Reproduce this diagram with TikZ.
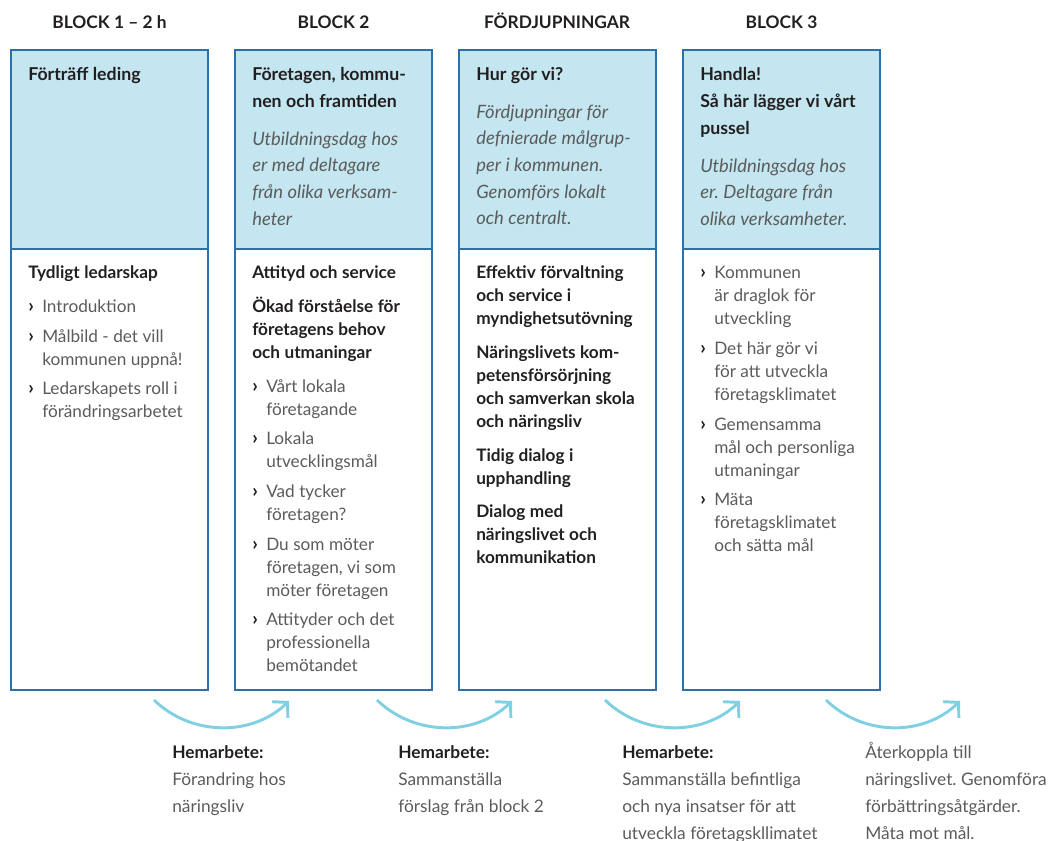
\documentclass[tikz,border=0pt]{standalone}
\usepackage{fontspec}
\setmainfont{Lato}
\usetikzlibrary{arrows.meta}
\frenchspacing
\definecolor{lysblaa}{HTML}{C4E6F0}
\definecolor{ramblaa}{HTML}{2D6FA8}
\definecolor{pilblaa}{HTML}{80D0E3}
\definecolor{morkgra}{HTML}{231F20}
\definecolor{textgra}{HTML}{5B5B5B}
\newcommand{\topp}{\fontsize{13.3}{20.25}\selectfont}
\newcommand{\nedre}{\fontsize{12.9}{17.25}\selectfont}
\newcommand{\kursiv}[1]{\par\addvspace{8pt}\leavevmode{\fontsize{13.8}{20}\selectfont\itshape\color{textgra}#1\par}}
\newcommand{\rub}[1]{\leavevmode{\bfseries\color{morkgra}#1}\par\addvspace{8pt}}
\newcommand{\pkt}[1]{\hangindent=10.5pt\hangafter=1\noindent\makebox[10.5pt][l]{\color{morkgra}\fontsize{14.5}{17.25}\selectfont\bfseries ›}{\def\\{\newline}#1}\par\addvspace{5pt}}

\begin{document}
\begin{tikzpicture}[x=0.75pt,y=-0.75pt,
  ram/.style={draw=ramblaa, line width=1.1pt},
  tekst/.style={anchor=base west, inner sep=0, align=left, text width=165pt, text=textgra},
  rubrikk/.style={anchor=base, inner sep=0, font=\fontsize{13}{16}\selectfont\bfseries, text=morkgra},
  pil/.style={draw=pilblaa, line width=2.2pt, -{Straight Barb[length=8pt, width=17pt, line width=2.2pt]}}]
\useasboundingbox (0,0) rectangle (1050,841);
\foreach \x in {11,235,459,683} {
 \draw[ram, fill=lysblaa] (\x,50) rectangle ++(197,199);
 \draw[ram] (\x,249) rectangle ++(197,441);
}
\node[rubrikk] (h1) at (109.5,29) {BLOCK 1 – 2 h};
\node[rubrikk] (h2) at (333.5,29) {BLOCK 2};
\node[rubrikk] (h3) at (557,29) {FÖRDJUPNINGAR};
\node[rubrikk] (h4) at (781.5,29) {BLOCK 3};

\node[tekst, text=morkgra] (t1) at (28,81) {\topp\textbf{Förträff leding}\par};
\node[tekst, text=morkgra] (t2) at (252,81) {\topp\textbf{Företagen, kommu-\\nen och framtiden}\kursiv{Utbildningsdag hos\\er med deltagare\\från olika verksam-\\heter}};
\node[tekst, text=morkgra] (t3) at (476,81) {\topp\textbf{Hur gör vi?}\kursiv{Fördjupningar för\\defnierade målgrup-\\per i kommunen.\\Genomförs lokalt\\och centralt.}};
\node[tekst, text=morkgra] (t4) at (700,81) {\topp\textbf{Handla!\\Så här lägger vi vårt\\pussel}\kursiv{Utbildningsdag hos\\er. Deltagare från\\olika verksamheter.}};

\node[tekst] (n1) at (28,279) {\nedre\rub{Tydligt ledarskap}\pkt{Introduktion}\pkt{Målbild - det vill\\kommunen uppnå!}\pkt{Ledarskapets roll i\\förändringsarbetet}};
\node[tekst] (n2) at (252,279) {\nedre\rub{Attityd och service}\rub{Ökad förståelse för\\företagens behov\\och utmaningar}\pkt{Vårt lokala\\företagande}\pkt{Lokala\\utvecklingsmål}\pkt{Vad tycker\\företagen?}\pkt{Du som möter\\företagen, vi som\\möter företagen}\pkt{Attityder och det\\professionella\\bemötandet}};
\node[tekst] (n3) at (476,279) {\nedre\rub{Effektiv förvaltning\\och service i\\myndighetsutövning}\rub{Näringslivets kom-\\petensförsörjning\\och samverkan skola\\och näringsliv}\rub{Tidig dialog i\\upphandling}\rub{Dialog med\\näringslivet och\\kommunikation}};
\node[tekst] (n4) at (700,279) {\nedre\pkt{Kommunen\\är draglok för\\utveckling}\pkt{Det här gör vi\\för att utveckla\\företagsklimatet}\pkt{Gemensamma\\mål och personliga\\utmaningar}\pkt{Mäta\\företagsklimatet\\och sätta mål}};

\foreach \a/\b [count=\i] in {154/289,377/512,605/740,826/960} {
 \coordinate (fra\i) at (\a,700);
 \coordinate (til\i) at (\b,701);
 \draw[pil] (fra\i) .. controls +(37,36) and +(-37,36) .. (til\i);
}

\node[tekst] (l1) at (172,758) {\fontsize{13}{20.25}\selectfont\textbf{\color{morkgra}Hemarbete:}\\Förandring hos\\näringsliv\par};
\node[tekst] (l2) at (398,758) {\fontsize{13}{20.25}\selectfont\textbf{\color{morkgra}Hemarbete:}\\Sammanställa\\förslag från block 2\par};
\node[tekst] (l3) at (622,758) {\fontsize{13}{20.25}\selectfont\textbf{\color{morkgra}Hemarbete:}\\Sammanställa befintliga\\och nya insatser för att\\utveckla företagskllimatet\par};
\node[tekst] (l4) at (865,758) {\fontsize{13}{20.25}\selectfont Återkoppla till\\näringslivet. Genomföra\\förbättringsåtgärder.\\Måta mot mål.\par};
\end{tikzpicture}
\end{document}
